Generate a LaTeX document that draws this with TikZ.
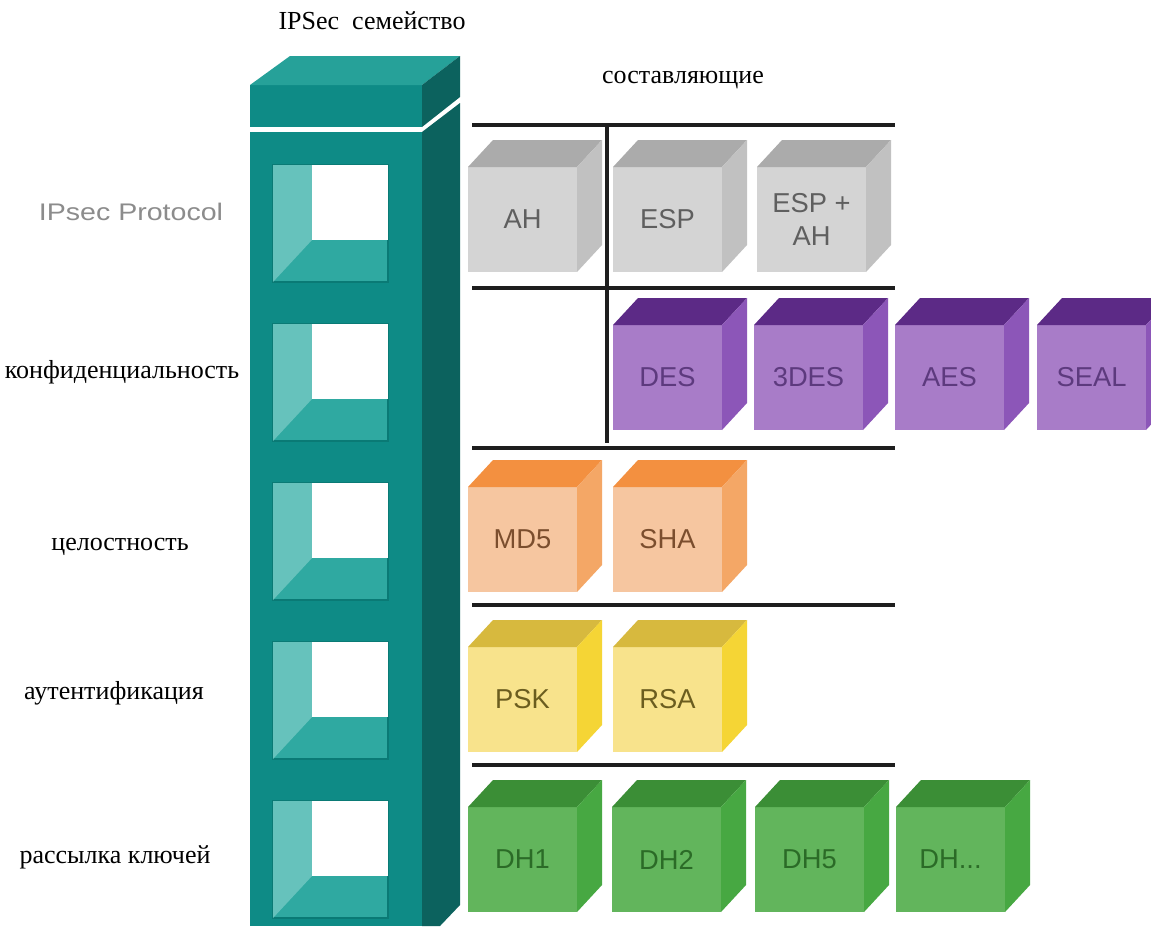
\documentclass[tikz,border=0pt]{standalone}
\usepackage{fontspec}
\setmainfont{Liberation Serif}
\newfontfamily\cubefont{Liberation Sans}
\newfontfamily\protofont[FakeStretch=1.19]{Liberation Sans}

% teal column
\definecolor{tealfront}{HTML}{0E8B86}
\definecolor{tealside}{HTML}{0C625E}
\definecolor{tealtop}{HTML}{26A199}
\definecolor{tealedge}{HTML}{0A7A75}
\definecolor{bevlight}{HTML}{66C2BC}
\definecolor{bevmid}{HTML}{2FA9A1}
% cube families
\definecolor{grayfront}{HTML}{D4D4D4}
\definecolor{graytop}{HTML}{ABABAB}
\definecolor{grayside}{HTML}{C1C1C1}
\definecolor{graytext}{HTML}{5F5F5F}
\definecolor{purplefront}{HTML}{A87CC8}
\definecolor{purpletop}{HTML}{5C2A86}
\definecolor{purpleside}{HTML}{8C56B8}
\definecolor{purpletext}{HTML}{5D3A7E}
\definecolor{orangefront}{HTML}{F6C6A0}
\definecolor{orangetop}{HTML}{F39040}
\definecolor{orangeside}{HTML}{F4A766}
\definecolor{orangetext}{HTML}{7B4E2E}
\definecolor{yellowfront}{HTML}{F8E38C}
\definecolor{yellowtop}{HTML}{D7B93E}
\definecolor{yellowside}{HTML}{F5D535}
\definecolor{yellowtext}{HTML}{6B5D1F}
\definecolor{greenfront}{HTML}{62B55C}
\definecolor{greentop}{HTML}{3B8E36}
\definecolor{greenside}{HTML}{47A842}
\definecolor{greentext}{HTML}{2B6B27}
\definecolor{rule}{HTML}{1E1E1E}
\definecolor{protogray}{HTML}{8C8C8C}

\tikzset{
  cubeface/.style={rectangle, inner sep=0pt, outer sep=0pt,
    minimum width=81.75pt, minimum height=78.75pt, align=center,
    font=\cubefont\fontsize{20.5}{25}\selectfont},
  rowlabel/.style={font=\fontsize{19.5}{22}\selectfont, text=black, inner sep=0pt},
  separator/.style={draw=rule, line width=3pt},
  winpane/.style={rectangle, fill=white, inner sep=0pt, outer sep=0pt,
    minimum width=57pt, minimum height=56.25pt},
}

% a cube: name, left x, top y of the front face, colour family, text
\newcommand{\ipcube}[5]{%
  \node[cubeface, fill=#4front, text=#4text] (#1) at (#2+54.5, #3+52.5) {#5};
  \fill[#4top] (#1.north west) -- ++(25,-27) -- ++(109,0) -- (#1.north east) -- cycle;
  \fill[#4side] (#1.north east) -- ++(25,-27) -- ++(0,105) -- (#1.south east) -- cycle;
}

% a bevelled window in the column: name, top y
\newcommand{\ipwindow}[2]{%
  \fill[bevmid, draw=tealedge, line width=1.5pt] (273,#2) rectangle (388,#2+117);
  \fill[bevlight] (273,#2) -- (312,#2) -- (312,#2+75) -- (273,#2+117) -- cycle;
  \node[winpane, anchor=north east] (#1) at (388,#2) {};
}

\begin{document}
\begin{tikzpicture}[x=0.75pt, y=-0.75pt]
\useasboundingbox (0,0) rectangle (1151,926);
\fill[white] (0,0) rectangle (1151,926);

% column cap
\fill[tealfront] (250,85) rectangle (422,127);
\fill[tealtop] (250,85) -- (290,56) -- (460,56) -- (422,85) -- cycle;
\fill[tealside] (422,85) -- (460,56) -- (460,97) -- (422,127) -- cycle;

% column body
\fill[tealfront] (250,132) rectangle (422,926);
\fill[tealside] (422,132) -- (460,103) -- (460,905) -- (440,926) -- (422,926) -- cycle;

% windows
\ipwindow{w1}{165}
\ipwindow{w2}{324}
\ipwindow{w3}{483}
\ipwindow{w4}{642}
\ipwindow{w5}{801}

% headings
\node[rowlabel] (family) at (372,21) {IPSec\ \ семейство};
\node[rowlabel] (parts) at (683,80) {составляющие};

% row labels
\node[font=\protofont\fontsize{18}{20}\selectfont, text=protogray, inner sep=0pt] (lproto) at (131,212) {IPsec Protocol};
\node[rowlabel] (lconf) at (122,372) {конфиденциальность};
\node[rowlabel] (linteg) at (120,547) {целостность};
\node[rowlabel] (lauth) at (114,693) {аутентификация};
\node[rowlabel] (lkeys) at (115,857) {рассылка ключей};

% separators
\coordinate (s1l) at (472,125);  \coordinate (s1r) at (895,125);
\coordinate (s2l) at (472,288);  \coordinate (s2r) at (895,288);
\coordinate (s3l) at (472,448);  \coordinate (s3r) at (895,448);
\coordinate (s4l) at (472,605);  \coordinate (s4r) at (895,605);
\coordinate (s5l) at (472,765);  \coordinate (s5r) at (895,765);
\coordinate (vt) at (607,125);   \coordinate (vb) at (607,443);
\draw[separator] (s1l) -- (s1r);
\draw[separator] (s2l) -- (s2r);
\draw[separator] (s3l) -- (s3r);
\draw[separator] (s4l) -- (s4r);
\draw[separator] (s5l) -- (s5r);
\draw[draw=rule, line width=2.4pt] (vt) -- (vb);

% protocol
\ipcube{ah}{468}{167}{gray}{AH}
\ipcube{esp}{613}{167}{gray}{ESP}
\ipcube{espah}{757}{167}{gray}{ESP +\\AH}
% confidentiality
\ipcube{des}{613}{325}{purple}{DES}
\ipcube{tdes}{754}{325}{purple}{3DES}
\ipcube{aes}{895}{325}{purple}{AES}
\ipcube{seal}{1037}{325}{purple}{SEAL}
% integrity
\ipcube{md5}{468}{487}{orange}{MD5}
\ipcube{sha}{613}{487}{orange}{SHA}
% authentication
\ipcube{psk}{468}{647}{yellow}{PSK}
\ipcube{rsa}{613}{647}{yellow}{RSA}
% key exchange
\ipcube{dh1}{468}{807}{green}{DH1}
\ipcube{dh2}{612}{807}{green}{DH2}
\ipcube{dh5}{755}{807}{green}{DH5}
\ipcube{dhx}{896}{807}{green}{DH...}
\end{tikzpicture}
\end{document}
